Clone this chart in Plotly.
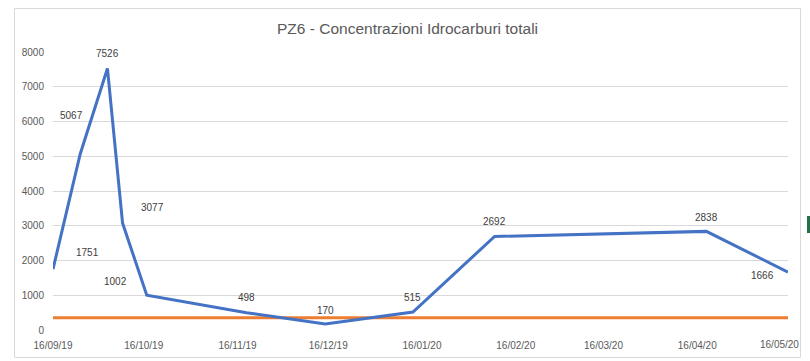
import plotly.graph_objects as go

# ---- data ----
dates = ["2019-09-16", "2019-09-25", "2019-10-04", "2019-10-09", "2019-10-17",
         "2019-11-19", "2019-12-15", "2020-01-13", "2020-02-09", "2020-04-19", "2020-05-16"]
values = [1751, 5067, 7526, 3077, 1002, 498, 170, 515, 2692, 2838, 1666]

limit_dates = ["2019-09-16", "2020-05-16"]
limit_values = [350, 350]

tick_dates = ["2019-09-16", "2019-10-16", "2019-11-16", "2019-12-16", "2020-01-16",
              "2020-02-16", "2020-03-16", "2020-04-16", "2020-05-16"]
tick_labels = ["16/09/19", "16/10/19", "16/11/19", "16/12/19", "16/01/20",
               "16/02/20", "16/03/20", "16/04/20", "16/05/20"]
y_ticks = [0, 1000, 2000, 3000, 4000, 5000, 6000, 7000, 8000]

title = "PZ6 - Concentrazioni Idrocarburi totali"

# label offsets (pixels) relative to each point
label_shifts = [(34, 17), (-9, 38), (0, 15), (30, 16), (-31, 14), (0, 15),
                (0, 14), (0, 15), (0, 15), (0, 14), (-26, -3)]

W, H = 810, 361
ML, MR, MT, MB = 53, 22, 52, 31
PW, PH = W - ML - MR, H - MT - MB


def px(x):
    return (x - ML) / PW


def py(y):
    return (H - MB - y) / PH


FONT = "Liberation Sans, Arial, sans-serif"

fig = go.Figure()
fig.add_trace(go.Scatter(x=limit_dates, y=limit_values, mode="lines",
                         line=dict(color="#ED7D31", width=3), hoverinfo="skip",
                         showlegend=False))
fig.add_trace(go.Scatter(x=dates, y=values, mode="lines",
                         line=dict(color="#4472C4", width=3),
                         showlegend=False))

for d, v, (dx, dy) in zip(dates, values, label_shifts):
    fig.add_annotation(x=d, y=v, text=str(v), showarrow=False,
                       xshift=dx, yshift=dy,
                       font=dict(family=FONT, size=10, color="#404040"))

fig.add_annotation(xref="paper", yref="paper", x=px(407), y=py(28), text=title,
                   showarrow=False, xanchor="center", yanchor="middle",
                   font=dict(family=FONT, size=15.5, color="#595959"))

# last x tick label is pulled inside the chart, as in the original
shown_ticks = tick_labels[:-1] + [""]
fig.add_annotation(xref="x", yref="paper", x=tick_dates[-1], y=py(344.5),
                   text=tick_labels[-1], showarrow=False, xanchor="right",
                   yanchor="middle", xshift=13,
                   font=dict(family=FONT, size=10, color="#595959"))

# outer chart border
fig.add_shape(type="rect", xref="paper", yref="paper",
              x0=px(14.5), x1=px(800.5), y0=py(357.5), y1=py(8.5),
              line=dict(color="#D9D9D9", width=1), fillcolor="rgba(0,0,0,0)",
              layer="below")
# small green marker at right edge
fig.add_shape(type="rect", xref="paper", yref="paper",
              x0=px(807), x1=px(810), y0=py(233), y1=py(216),
              line=dict(width=0), fillcolor="#217346")

fig.update_layout(
    width=W, height=H,
    margin=dict(l=ML, r=MR, t=MT, b=MB, pad=0, autoexpand=False),
    paper_bgcolor="white", plot_bgcolor="white",
    font=dict(family=FONT, size=10, color="#595959"),
    xaxis=dict(range=["2019-09-16", "2020-05-16"], tickvals=tick_dates,
               ticktext=shown_ticks, showgrid=False, zeroline=False,
               showline=False, ticks="", ticklabelstandoff=8,
               tickfont=dict(size=10, color="#595959"),
               fixedrange=True, automargin=False),
    yaxis=dict(range=[0, 8000], tickvals=y_ticks, showgrid=True,
               gridcolor="#D9D9D9", gridwidth=1, zeroline=False, showline=False,
               ticks="", ticklabelstandoff=8, automargin=False,
               tickfont=dict(size=10, color="#595959"), fixedrange=True),
    hovermode=False,
)

fig.write_html("out.html", config={"displayModeBar": False},
               post_script="document.body.style.margin='0px';")
